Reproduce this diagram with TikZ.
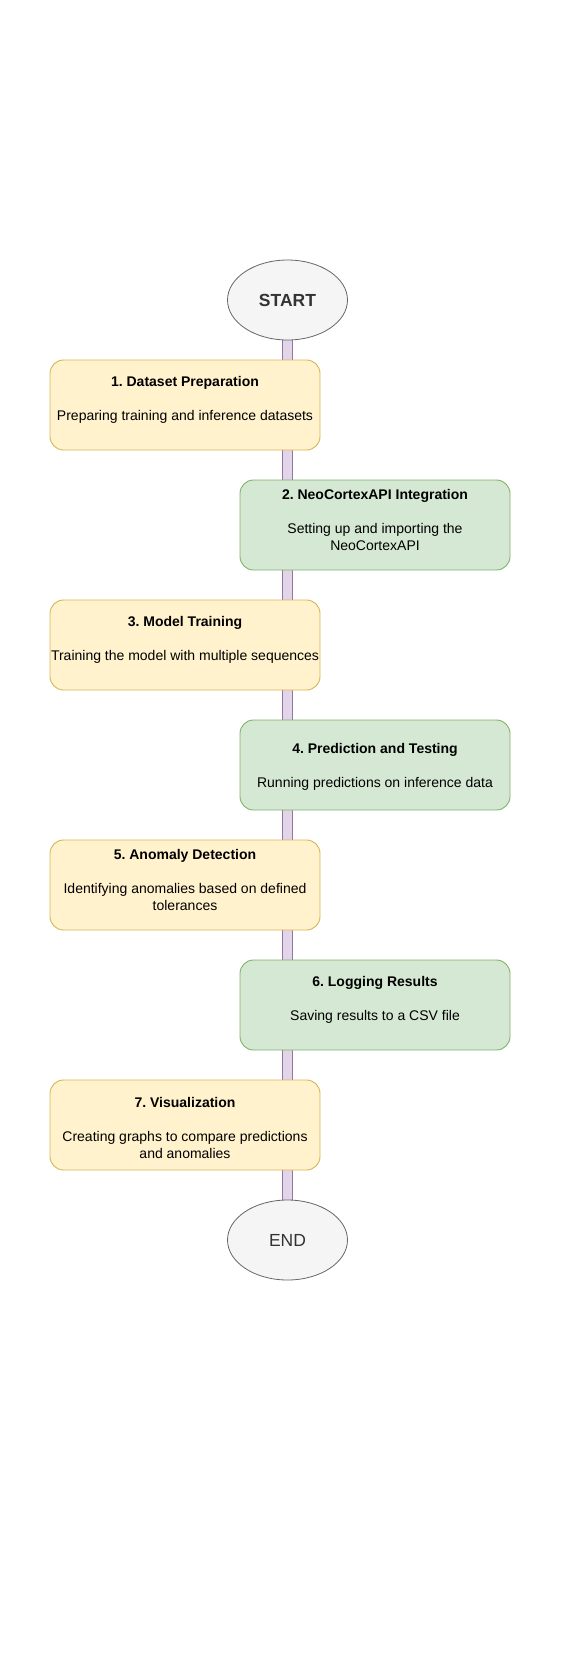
\documentclass[tikz,border=0pt]{standalone}
\usepackage{fontspec}
\setmainfont{Liberation Sans}
\usetikzlibrary{shapes.geometric,backgrounds,calc}
\frenchspacing
\definecolor{yfill}{HTML}{FFF2CC}
\definecolor{ydraw}{HTML}{D6B656}
\definecolor{gfill}{HTML}{D5E8D4}
\definecolor{gdraw}{HTML}{82B366}
\definecolor{efill}{HTML}{F5F5F5}
\definecolor{edraw}{HTML}{666666}
\definecolor{etext}{HTML}{333333}
\definecolor{bfill}{HTML}{E1D5E7}
\definecolor{bdraw}{HTML}{9673A6}
\tikzset{
  oval/.style={ellipse, draw=edraw, fill=efill, line width=0.8pt, minimum width=120, minimum height=80, inner sep=0pt, text=etext, font=\fontsize{17.5}{21}\selectfont},
  ybox/.style={rectangle, rounded corners=13.5, draw=ydraw, fill=yfill, line width=0.9pt, minimum width=270, minimum height=90, inner sep=0pt},
  gbox/.style={rectangle, rounded corners=13.5, draw=gdraw, fill=gfill, line width=0.9pt, minimum width=270, minimum height=90, inner sep=0pt},
  btext/.style={align=center, inner sep=0pt, font=\fontsize{14}{17}\selectfont},
  band/.style={draw=bdraw, line width=0.8pt, double=bfill, double distance=8.5pt},
}
\begin{document}
\frenchspacing
\begin{tikzpicture}[x=1pt,y=-1pt]
\useasboundingbox (0,0) rectangle (583,1654);
\node[oval] (start) at (287.5,300) {\textbf{START}};
\node[ybox] (b1) at (185,405) {};
\node[gbox] (b2) at (375,525) {};
\node[ybox] (b3) at (185,645) {};
\node[gbox] (b4) at (375,765) {};
\node[ybox] (b5) at (185,885) {};
\node[gbox] (b6) at (375,1005) {};
\node[ybox] (b7) at (185,1125) {};
\node[oval] (end) at (287.5,1240) {END};

\node[btext] (t1) at (185,399.5) {\textbf{1. Dataset Preparation}\\[17pt]Preparing training and inference datasets};
\node[btext] (t2) at (375,520) {\textbf{2. NeoCortexAPI Integration}\\[17pt]Setting up and importing the\\NeoCortexAPI};
\node[btext] (t3) at (185,639.5) {\textbf{3. Model Training}\\[17pt]Training the model with multiple sequences};
\node[btext] (t4) at (375,766.5) {\textbf{4. Prediction and Testing}\\[17pt]Running predictions on inference data};
\node[btext] (t5) at (185,879.5) {\textbf{5. Anomaly Detection}\\[17pt]Identifying anomalies based on defined\\tolerances};
\node[btext] (t6) at (375,999.5) {\textbf{6. Logging Results}\\[17pt]Saving results to a CSV file};
\node[btext] (t7) at (185,1127.5) {\textbf{7. Visualization}\\[17pt]Creating graphs to compare predictions\\and anomalies};

\begin{scope}[on background layer]
\draw[band] (start.center) -- (b1.center -| start.center);
\draw[band] (b1.center -| start.center) -- (b2.center -| start.center);
\draw[band] (b2.center -| start.center) -- (b3.center -| start.center);
\draw[band] (b3.center -| start.center) -- (b4.center -| start.center);
\draw[band] (b4.center -| start.center) -- (b5.center -| start.center);
\draw[band] (b5.center -| start.center) -- (b6.center -| start.center);
\draw[band] (b6.center -| start.center) -- (b7.center -| start.center);
\draw[band] (b7.center -| start.center) -- (end.center);
\end{scope}
\end{tikzpicture}
\end{document}
